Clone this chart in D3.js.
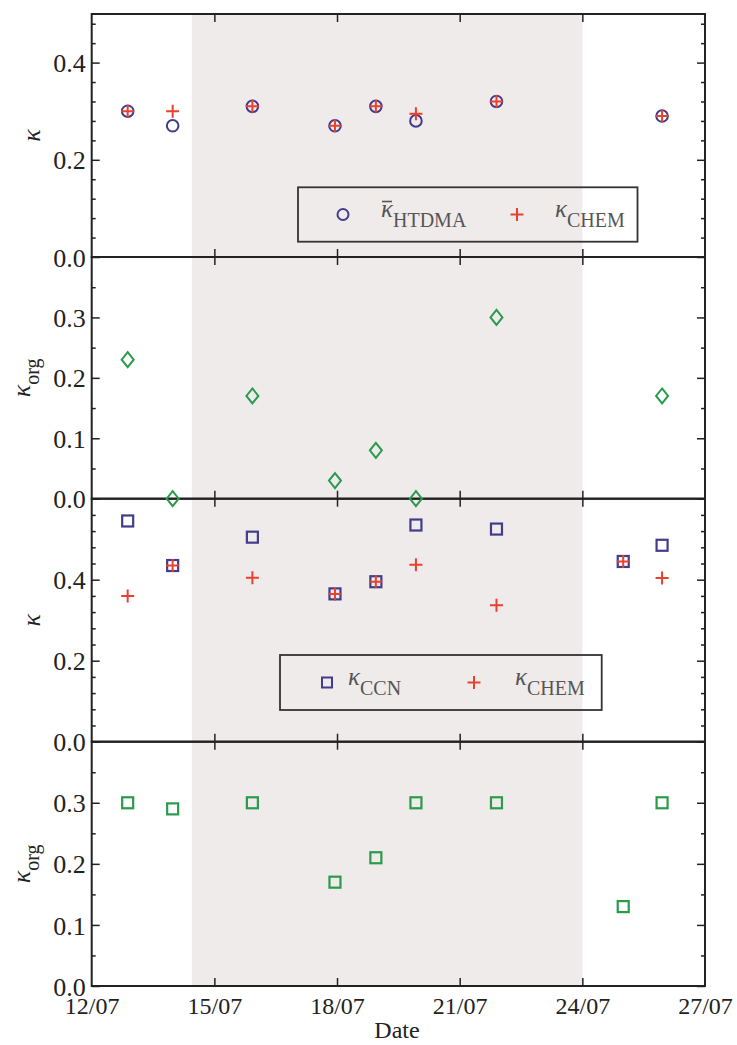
<!DOCTYPE html>
<html><head><meta charset="utf-8">
<script src="https://cdn.jsdelivr.net/npm/d3@7"></script>
<style>body{margin:0;background:#fff}svg{display:block}</style>
</head><body>
<script>
// ---- data (day of July) ----
const htdmaDates = [12.88, 13.98, 15.93, 17.95, 18.95, 19.93, 21.9, 25.95];
const kappaHTDMA = [0.30, 0.27, 0.31, 0.27, 0.31, 0.28, 0.32, 0.29];
const kappaChemHTDMA = [0.30, 0.30, 0.31, 0.27, 0.31, 0.295, 0.32, 0.29];
const kappaOrgHTDMA = [0.23, 0.0, 0.17, 0.03, 0.08, 0.0, 0.30, 0.17];
const ccnDates = [12.88, 13.98, 15.93, 17.95, 18.95, 19.93, 21.9, 25.0, 25.95];
const kappaCCN = [0.545, 0.435, 0.505, 0.365, 0.395, 0.535, 0.525, 0.445, 0.485];
const kappaChemCCN = [0.36, 0.435, 0.405, 0.365, 0.395, 0.437, 0.337, 0.445, 0.404];
const kappaOrgCCN = [0.30, 0.29, 0.30, 0.17, 0.21, 0.30, 0.30, 0.13, 0.30];
const xTickValues = [12, 15, 18, 21, 24, 27];
const xTickLabels = ["12/07", "15/07", "18/07", "21/07", "24/07", "27/07"];
const shadeRange = [14.45, 24.0];

const FONT = "'Liberation Serif', 'Times New Roman', 'DejaVu Serif', serif";
const W = 737, H = 1045;
const purple = "#433c8c", red = "#e8412e", green = "#2a9a4b", axisC = "#222";
const svg = d3.select("body").append("svg").attr("width", W).attr("height", H)
  .attr("font-family", FONT).style("font-family", FONT);
const x = d3.scaleLinear().domain([12, 27]).range([91.7, 705]);

const panels = [
  {top: 14, bottom: 257, max: 0.5, major: [0, 0.2, 0.4], minorStep: 0.04, label: "k"},
  {top: 257, bottom: 498.7, max: 0.4, major: [0, 0.1, 0.2, 0.3], minorStep: 0.05, label: "korg"},
  {top: 498.7, bottom: 741.7, max: 0.6, major: [0, 0.2, 0.4], minorStep: 0.04, label: "k"},
  {top: 741.7, bottom: 986, max: 0.4, major: [0, 0.1, 0.2, 0.3], minorStep: 0.05, label: "korg"}
];
panels.forEach(p => {
  p.y = d3.scaleLinear().domain([0, p.max]).range([p.bottom, p.top]);
  p.minor = d3.range(0, p.max + 1e-9, p.minorStep).map(v => +v.toFixed(3)).filter(v => !p.major.some(m => Math.abs(m - v) < 1e-6) && v < p.max - 1e-6);
});

// shading
svg.append("rect").attr("x", x(shadeRange[0])).attr("y", panels[0].top)
  .attr("width", x(shadeRange[1]) - x(shadeRange[0]))
  .attr("height", panels[3].bottom - panels[0].top).attr("fill", "#efebeb");

function styleAxis(g) {
  g.attr("font-family", FONT);
  g.select(".domain").remove();
  g.selectAll("line").attr("stroke", axisC).attr("stroke-width", 1.5);
}

// axes
panels.forEach((p, i) => {
  const gL = svg.append("g").attr("transform", `translate(${x.range()[0]},0)`)
    .call(d3.axisLeft(p.y).tickValues(p.major).tickSize(-8).tickPadding(6).tickFormat(d3.format(".1f")));
  styleAxis(gL);
  gL.selectAll("text").attr("font-size", 26).attr("fill", "#222").attr("dy", "0.35em").attr("font-family", FONT);
  const gLm = svg.append("g").attr("transform", `translate(${x.range()[0]},0)`)
    .call(d3.axisLeft(p.y).tickValues(p.minor).tickSize(-4).tickFormat(""));
  styleAxis(gLm);
  const gR = svg.append("g").attr("transform", `translate(${x.range()[1]},0)`)
    .call(d3.axisRight(p.y).tickValues(p.major).tickSize(-8).tickFormat(""));
  styleAxis(gR);
  const gRm = svg.append("g").attr("transform", `translate(${x.range()[1]},0)`)
    .call(d3.axisRight(p.y).tickValues(p.minor).tickSize(-4).tickFormat(""));
  styleAxis(gRm);
  const gT = svg.append("g").attr("transform", `translate(0,${p.top})`)
    .call(d3.axisTop(x).tickValues(xTickValues.slice(1, -1)).tickSize(-8).tickFormat(""));
  styleAxis(gT);
  const gB = svg.append("g").attr("transform", `translate(0,${p.bottom})`)
    .call(d3.axisBottom(x).tickValues(xTickValues.slice(1, -1)).tickSize(-8).tickFormat(""));
  styleAxis(gB);
  svg.append("rect").attr("x", x.range()[0]).attr("y", p.top)
    .attr("width", x.range()[1] - x.range()[0]).attr("height", p.bottom - p.top)
    .attr("fill", "none").attr("stroke", axisC).attr("stroke-width", 2);
  const cy = (p.top + p.bottom) / 2;
  const lx = p.label === "korg" ? 30 : 40;
  const t = svg.append("text").attr("transform", `translate(${lx},${cy}) rotate(-90)`)
    .attr("text-anchor", "middle").attr("font-size", 26).attr("fill", "#222").attr("font-family", FONT);
  t.append("tspan").attr("font-style", "italic").text("κ");
  if (p.label === "korg") t.append("tspan").attr("font-size", 20).attr("dy", 9).text("org");
});

// bottom x labels
const gX = svg.append("g").attr("transform", `translate(0,${panels[3].bottom})`)
  .call(d3.axisBottom(x).tickValues(xTickValues).tickSize(0).tickPadding(11).tickFormat((d, i) => xTickLabels[i]));
styleAxis(gX);
gX.selectAll("text").attr("font-size", 24).attr("fill", "#222").attr("font-family", FONT);
svg.append("text").attr("x", 397).attr("y", 1038)
  .attr("text-anchor", "middle").attr("font-size", 24).attr("fill", "#222").attr("font-family", FONT).text("Date");

// marker helpers
function circles(g, xs, ys, sc, r) {
  g.selectAll(null).data(xs).enter().append("circle")
    .attr("cx", d => x(d)).attr("cy", (d, i) => sc(ys[i])).attr("r", r)
    .attr("fill", "none").attr("stroke", purple).attr("stroke-width", 2);
}
function squares(g, xs, ys, sc, s, col) {
  g.selectAll(null).data(xs).enter().append("rect")
    .attr("x", d => x(d) - s / 2).attr("y", (d, i) => sc(ys[i]) - s / 2).attr("width", s).attr("height", s)
    .attr("fill", "none").attr("stroke", col).attr("stroke-width", 2.2);
}
function pluses(g, xs, ys, sc, a) {
  g.selectAll(null).data(xs).enter().append("path")
    .attr("d", (d, i) => { const cx = x(d), cy = sc(ys[i]); return `M${cx - a},${cy}H${cx + a}M${cx},${cy - a}V${cy + a}`; })
    .attr("stroke", red).attr("stroke-width", 2).attr("fill", "none");
}
function diamonds(g, xs, ys, sc) {
  g.selectAll(null).data(xs).enter().append("path")
    .attr("d", (d, i) => { const cx = x(d), cy = sc(ys[i]); return `M${cx},${cy - 7.5}L${cx + 6},${cy}L${cx},${cy + 7.5}L${cx - 6},${cy}Z`; })
    .attr("stroke", green).attr("stroke-width", 2).attr("fill", "none");
}

const m = svg.append("g");
circles(m, htdmaDates, kappaHTDMA, panels[0].y, 5.8);
pluses(m, htdmaDates, kappaChemHTDMA, panels[0].y, 6.5);
diamonds(m, htdmaDates, kappaOrgHTDMA, panels[1].y);
squares(m, ccnDates, kappaCCN, panels[2].y, 11, purple);
pluses(m, ccnDates, kappaChemCCN, panels[2].y, 6.5);
squares(m, ccnDates, kappaOrgCCN, panels[3].y, 11, green);

// legends
function legend(x0, y0, w, h, items) {
  const g = svg.append("g");
  g.append("rect").attr("x", x0).attr("y", y0).attr("width", w).attr("height", h)
    .attr("fill", "none").attr("stroke", "#333").attr("stroke-width", 1.8);
  const cy = y0 + h / 2;
  items.forEach(it => {
    if (it.type === "circle") g.append("circle").attr("cx", it.mx).attr("cy", cy).attr("r", 5.5).attr("fill", "none").attr("stroke", purple).attr("stroke-width", 2);
    if (it.type === "square") g.append("rect").attr("x", it.mx - 5).attr("y", cy - 5).attr("width", 10).attr("height", 10).attr("fill", "none").attr("stroke", purple).attr("stroke-width", 2);
    if (it.type === "plus") g.append("path").attr("d", `M${it.mx - 6.5},${cy}H${it.mx + 6.5}M${it.mx},${cy - 6.5}V${cy + 6.5}`).attr("stroke", red).attr("stroke-width", 2);
    const t = g.append("text").attr("x", it.tx).attr("y", cy + 2).attr("font-size", 25).attr("fill", "#555").attr("font-family", FONT);
    t.append("tspan").attr("font-style", "italic").text("κ");
    t.append("tspan").attr("font-size", 20).attr("dy", 10).text(it.sub);
    if (it.bar) g.append("line").attr("x1", it.tx + 1).attr("x2", it.tx + 11).attr("y1", cy - 13).attr("y2", cy - 13).attr("stroke", "#555").attr("stroke-width", 1.6);
  });
}
legend(298, 187.3, 339.5, 54.4, [
  {type: "circle", mx: 343, tx: 381, sub: "HTDMA", bar: true},
  {type: "plus", mx: 517, tx: 555, sub: "CHEM"}
]);
legend(280, 655, 321.7, 55, [
  {type: "square", mx: 327, tx: 348, sub: "CCN"},
  {type: "plus", mx: 474, tx: 515, sub: "CHEM"}
]);
</script>
</body></html>
